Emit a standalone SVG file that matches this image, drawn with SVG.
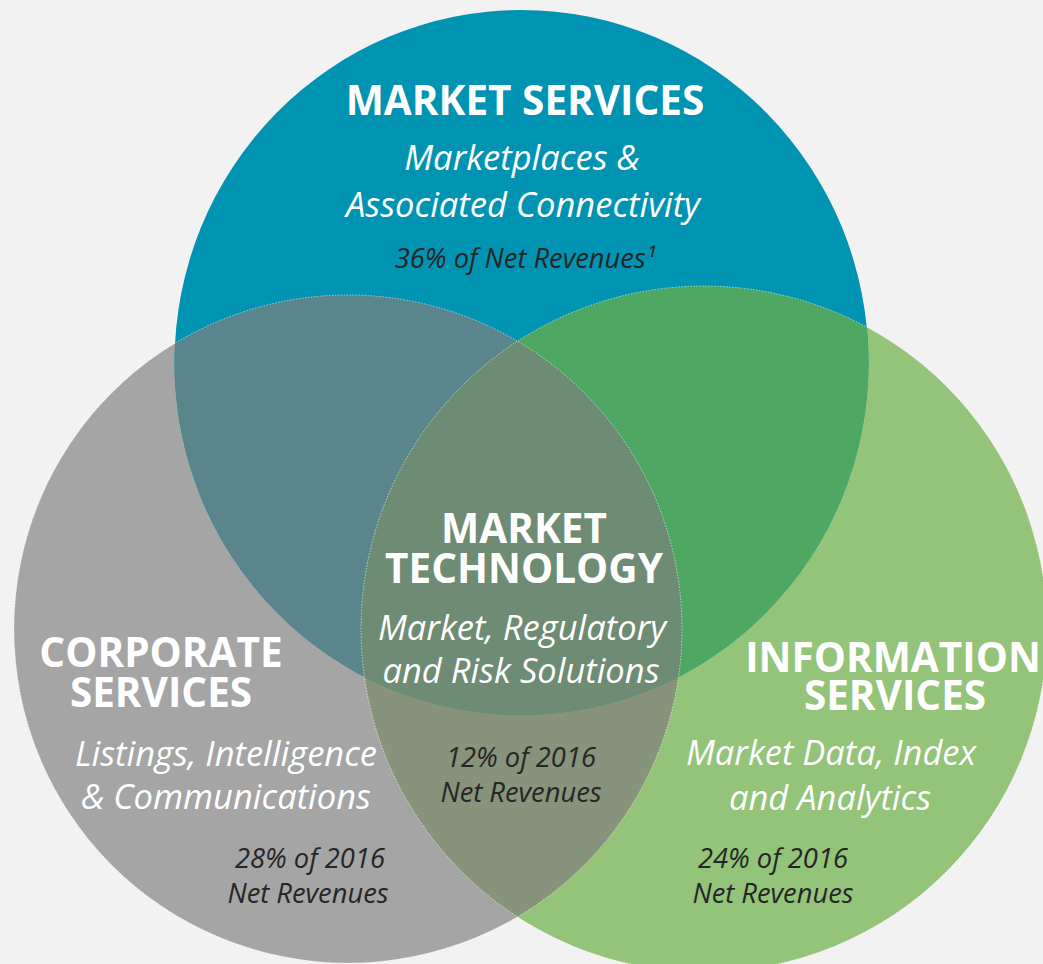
<svg xmlns="http://www.w3.org/2000/svg" width="1043" height="964" viewBox="0 0 1043 964">
<style>
.h{font-family:"Open Sans","Liberation Sans",sans-serif;font-weight:bold;fill:#fff;text-anchor:middle;font-size:40.5px}
.s{font-family:"Open Sans","Liberation Sans",sans-serif;font-style:italic;fill:#fff;text-anchor:middle;font-size:34.5px}
.p{font-family:"Open Sans","Liberation Sans",sans-serif;font-style:italic;fill:#262626;text-anchor:middle;font-size:27.3px}
.edge{fill:none;stroke:#fff;stroke-opacity:0.7;stroke-width:0.8;stroke-dasharray:1.5 1.5}
</style>
<defs>
<clipPath id="cBlue"><ellipse cx="521.5" cy="362.5" rx="347" ry="352.5"/></clipPath>
<clipPath id="cGray"><circle cx="348" cy="629" r="334"/></clipPath>
<clipPath id="cGreen"><circle cx="704" cy="629" r="343"/></clipPath>
</defs>
<rect width="1043" height="964" fill="#F2F2F2"/>
<g id="shapes">
<circle cx="348" cy="629" r="334" fill="#A5A5A5"/>
<circle cx="704" cy="629" r="343" fill="#93C47A"/>
<ellipse cx="521.5" cy="362.5" rx="347" ry="352.5" fill="#0093B2"/>
<g clip-path="url(#cGray)"><circle cx="704" cy="629" r="343" fill="#87937A"/></g>
<g clip-path="url(#cGray)"><ellipse cx="521.5" cy="362.5" rx="347" ry="352.5" fill="#5A858C"/></g>
<g clip-path="url(#cGreen)"><ellipse cx="521.5" cy="362.5" rx="347" ry="352.5" fill="#4EA864"/></g>
<g clip-path="url(#cBlue)"><g clip-path="url(#cGreen)"><circle cx="348" cy="629" r="334" fill="#6E8B74"/></g></g>
<circle class="edge" cx="348" cy="629" r="334"/>
<circle class="edge" cx="704" cy="629" r="343"/>
</g>
<g id="market-services">
<text class="h" x="525" y="115">MARKET SERVICES</text>
<text class="s" x="522" y="170">Marketplaces &amp;</text>
<text class="s" x="523" y="217">Associated Connectivity</text>
<text class="p" x="525" y="268">36% of Net Revenues¹</text>
</g>
<g id="market-technology">
<text class="h" x="524" y="543">MARKET</text>
<text class="h" x="524" y="583">TECHNOLOGY</text>
<text class="s" x="522" y="640">Market, Regulatory</text>
<text class="s" x="521" y="683">and Risk Solutions</text>
<text class="p" x="521" y="767">12% of 2016</text>
<text class="p" x="521" y="802">Net Revenues</text>
</g>
<g id="corporate-services">
<text class="h" x="161" y="667">CORPORATE</text>
<text class="h" x="161" y="707">SERVICES</text>
<text class="s" x="226" y="766">Listings, Intelligence</text>
<text class="s" x="226" y="809">&amp; Communications</text>
<text class="p" x="310" y="868">28% of 2016</text>
<text class="p" x="308" y="903">Net Revenues</text>
</g>
<g id="information-services">
<text class="h" x="893" y="672">INFORMATION</text>
<text class="h" x="895" y="710">SERVICES</text>
<text class="s" x="831" y="765">Market Data, Index</text>
<text class="s" x="830" y="810">and Analytics</text>
<text class="p" x="773" y="868">24% of 2016</text>
<text class="p" x="773" y="903">Net Revenues</text>
</g>
</svg>
